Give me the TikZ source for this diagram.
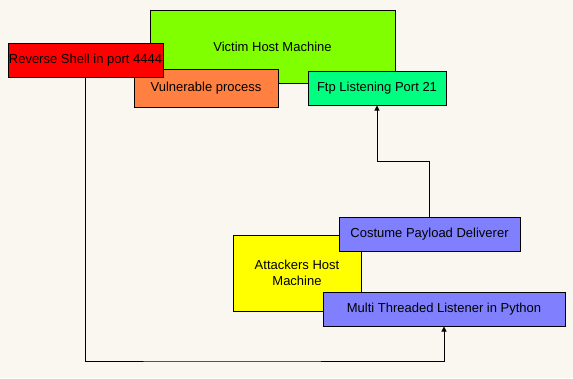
\documentclass[tikz,border=0pt]{standalone}
\usepackage{fontspec}
\setmainfont{Liberation Sans}
\usepackage{tikz}
\usetikzlibrary{arrows.meta, positioning}
\definecolor{bgcream}{HTML}{FAF6F0}
\definecolor{victimgreen}{HTML}{80FF00}
\definecolor{shellred}{HTML}{FF0000}
\definecolor{procorange}{HTML}{FF8040}
\definecolor{ftpgreen}{HTML}{00FF80}
\definecolor{attackblue}{HTML}{8080FF}
\definecolor{attackyellow}{HTML}{FFFF00}

\begin{document}
\begin{tikzpicture}[
  x=1pt, y=-1pt,
  box/.style={rectangle, draw=black, fill=#1, line width=1pt, inner sep=0pt,
    font=\fontsize{13}{15.7}\selectfont, align=center},
  link/.style={line width=1pt, black},
]
  \useasboundingbox[fill=bgcream] (0,0) rectangle (573,378);
  % victim side
  \node[box=victimgreen, minimum width=245pt, minimum height=73pt] (victim) at (272.5,46.5) {Victim Host Machine};
  \node[box=procorange, minimum width=144pt, minimum height=38pt] (vuln) at (206,88) {Vulnerable process};
  \node[box=shellred, minimum width=155pt, minimum height=34pt] (shell) at (85.5,60) {Reverse Shell in port 4444};
  \node[box=ftpgreen, minimum width=138pt, minimum height=34pt] (ftp) at (377,88) {Ftp Listening Port 21};
  % attacker side
  \node[box=attackyellow, minimum width=128pt, minimum height=76pt] (attacker) at (297,273) {Attackers Host\\Machine};
  \node[box=attackblue, minimum width=181pt, minimum height=34pt] (payload) at (429.5,234) {Costume Payload Deliverer};
  \node[box=attackblue, minimum width=242pt, minimum height=34pt] (listener) at (444,309) {Multi Threaded Listener in Python};
  % connectors
  \coordinate (upturn) at (429.5,161);
  \coordinate (downturn) at (200,361);
  \draw[link, -{Triangle[length=5pt, width=5pt]}] (payload.north) -- (upturn) -| (ftp.south);
  \draw[link, -{Triangle[length=5pt, width=5pt]}] (shell.south) |- (downturn) -| (listener.south);
\end{tikzpicture}
\end{document}
